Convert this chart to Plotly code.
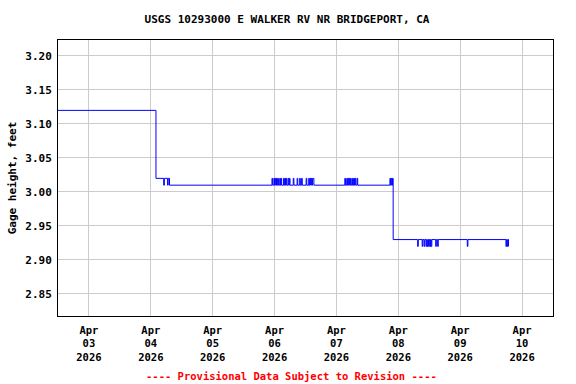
import plotly.graph_objects as go

# Change points of the 15-minute gage-height record (value holds until next time)
times = [
    "2026-04-02 12:00", "2026-04-04 02:00", "2026-04-04 05:00", "2026-04-04 05:15",
    "2026-04-04 06:30", "2026-04-04 06:45", "2026-04-04 07:15",
    "2026-04-05 23:00", "2026-04-05 23:15", "2026-04-05 23:45", "2026-04-06 00:00",
    "2026-04-06 00:15", "2026-04-06 00:30", "2026-04-06 00:45", "2026-04-06 01:00",
    "2026-04-06 01:15", "2026-04-06 01:30", "2026-04-06 02:00", "2026-04-06 02:15",
    "2026-04-06 02:30", "2026-04-06 02:45", "2026-04-06 03:30", "2026-04-06 03:45",
    "2026-04-06 04:00", "2026-04-06 04:15", "2026-04-06 04:30", "2026-04-06 04:45",
    "2026-04-06 05:15", "2026-04-06 05:30", "2026-04-06 05:45", "2026-04-06 06:00",
    "2026-04-06 07:15", "2026-04-06 07:30", "2026-04-06 08:45", "2026-04-06 09:00",
    "2026-04-06 09:45", "2026-04-06 10:00", "2026-04-06 10:30", "2026-04-06 10:45",
    "2026-04-06 12:15", "2026-04-06 12:30", "2026-04-06 13:15", "2026-04-06 13:30",
    "2026-04-06 13:45", "2026-04-06 14:00", "2026-04-06 14:15", "2026-04-06 14:30",
    "2026-04-06 14:45", "2026-04-06 15:15",
    "2026-04-07 03:15", "2026-04-07 03:30", "2026-04-07 04:00", "2026-04-07 04:15",
    "2026-04-07 04:30", "2026-04-07 04:45", "2026-04-07 05:00", "2026-04-07 05:15",
    "2026-04-07 05:30", "2026-04-07 05:45", "2026-04-07 06:15", "2026-04-07 06:30",
    "2026-04-07 06:45", "2026-04-07 07:00", "2026-04-07 07:15", "2026-04-07 07:30",
    "2026-04-07 08:00", "2026-04-07 08:15",
    "2026-04-07 20:45", "2026-04-07 21:00", "2026-04-07 21:15", "2026-04-07 21:30",
    "2026-04-07 21:45", "2026-04-07 22:00",
    "2026-04-08 07:30", "2026-04-08 07:45", "2026-04-08 09:15", "2026-04-08 09:30",
    "2026-04-08 10:00", "2026-04-08 10:15", "2026-04-08 10:45", "2026-04-08 11:00",
    "2026-04-08 11:15", "2026-04-08 11:30", "2026-04-08 11:45", "2026-04-08 12:00",
    "2026-04-08 12:15", "2026-04-08 12:30", "2026-04-08 12:45", "2026-04-08 13:00",
    "2026-04-08 14:30", "2026-04-08 14:45", "2026-04-08 15:15", "2026-04-08 15:30",
    "2026-04-09 02:45", "2026-04-09 03:00",
    "2026-04-09 17:45", "2026-04-09 18:00", "2026-04-09 18:15", "2026-04-09 18:30",
    "2026-04-09 18:45",
]
gage_height = [
    3.12, 3.02, 3.01, 3.02,
    3.01, 3.02, 3.01,
    3.02, 3.01, 3.02, 3.01,
    3.02, 3.01, 3.02, 3.01,
    3.02, 3.01, 3.02, 3.01,
    3.02, 3.01, 3.02, 3.01,
    3.02, 3.01, 3.02, 3.01,
    3.02, 3.01, 3.02, 3.01,
    3.02, 3.01, 3.02, 3.01,
    3.02, 3.01, 3.02, 3.01,
    3.02, 3.01, 3.02, 3.01,
    3.02, 3.01, 3.02, 3.01,
    3.02, 3.01,
    3.02, 3.01, 3.02, 3.01,
    3.02, 3.01, 3.02, 3.01,
    3.02, 3.01, 3.02, 3.01,
    3.02, 3.01, 3.02, 3.01,
    3.02, 3.01,
    3.02, 3.01, 3.02, 3.01,
    3.02, 2.93,
    2.92, 2.93, 2.92, 2.93,
    2.92, 2.93, 2.92, 2.93,
    2.92, 2.93, 2.92, 2.93,
    2.92, 2.93, 2.92, 2.93,
    2.92, 2.93, 2.92, 2.93,
    2.92, 2.93,
    2.92, 2.93, 2.92, 2.93,
    2.92,
]

tick_dates = ["2026-04-03", "2026-04-04", "2026-04-05", "2026-04-06",
              "2026-04-07", "2026-04-08", "2026-04-09", "2026-04-10"]
tick_labels = ["Apr<br>03<br>2026", "Apr<br>04<br>2026", "Apr<br>05<br>2026",
               "Apr<br>06<br>2026", "Apr<br>07<br>2026", "Apr<br>08<br>2026",
               "Apr<br>09<br>2026", "Apr<br>10<br>2026"]
y_ticks = [2.85, 2.90, 2.95, 3.00, 3.05, 3.10, 3.15, 3.20]

FONT = "DejaVu Sans Mono"

fig = go.Figure()
fig.add_trace(go.Scatter(
    x=times, y=gage_height, mode="lines", line_shape="hv",
    line=dict(color="#0000ff", width=1), showlegend=False, hoverinfo="x+y",
))

fig.update_layout(
    width=576, height=384,
    margin=dict(l=58, r=23, t=40, b=68),
    paper_bgcolor="white", plot_bgcolor="white",
    font=dict(family=FONT, size=11, color="black", weight="bold"),
    title=dict(text="USGS 10293000 E WALKER RV NR BRIDGEPORT, CA",
               x=287 / 576, xref="container", xanchor="center",
               y=1 - 19 / 384, yref="container", yanchor="middle",
               font=dict(family=FONT, size=11, color="black", weight="bold")),
    xaxis=dict(
        range=["2026-04-02 12:00", "2026-04-10 12:00"],
        tickmode="array", tickvals=tick_dates, ticktext=tick_labels,
        showgrid=True, gridcolor="#cccccc", gridwidth=1,
        showline=True, linecolor="black", linewidth=1, mirror=True,
        ticks="", zeroline=False, ticklabelstandoff=4,
        tickfont=dict(family=FONT, size=10.5, color="black", weight="bold"),
    ),
    yaxis=dict(
        range=[2.8176, 3.2235],
        tickmode="array", tickvals=y_ticks, tickformat=".2f",
        showgrid=True, gridcolor="#cccccc", gridwidth=1,
        showline=True, linecolor="black", linewidth=1, mirror=True,
        ticks="", zeroline=False, ticklabelstandoff=3,
        tickfont=dict(family=FONT, size=11, color="black", weight="bold"),
        title=dict(text="Gage height, feet", standoff=6,
                   font=dict(family=FONT, size=11, color="black", weight="bold")),
    ),
    annotations=[dict(
        text="---- Provisional Data Subject to Revision ----",
        xref="paper", yref="paper", x=(291 - 58) / 495, y=-60 / 276,
        xanchor="center", yanchor="middle", showarrow=False,
        font=dict(family=FONT, size=10.5, color="#ff0000", weight="bold"),
    )],
)

fig.write_html("out.html", config={"displayModeBar": False},
               post_script="document.body.style.margin='0px';")
